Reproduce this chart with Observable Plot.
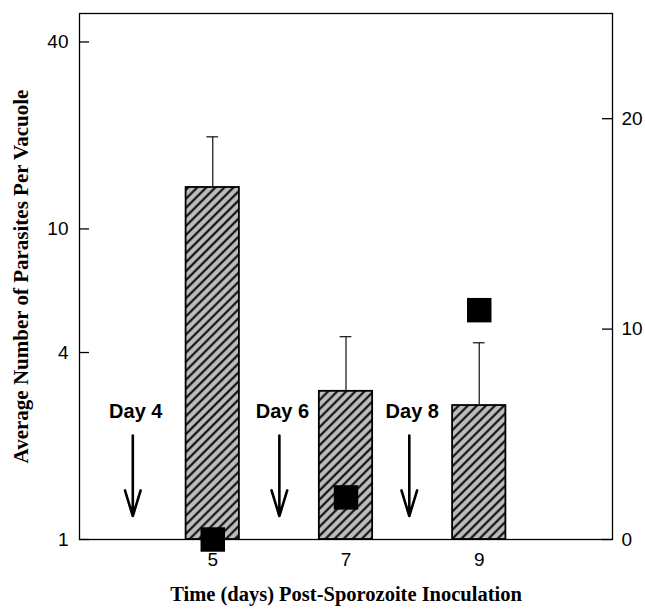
<!DOCTYPE html>
<html><head><meta charset="utf-8">
<script src="https://cdn.jsdelivr.net/npm/d3@7"></script>
<script src="https://cdn.jsdelivr.net/npm/@observablehq/plot@0.6"></script>
<style>
body{margin:0;background:#fff;}
</style>
</head><body><div id="chart"></div>
<script>
// ---- data ----
const days = [5, 7, 9];
const parasites = [13.6, 3.0, 2.7];          // left (log) axis, bar heights
const parasitesErr = [19.8, 4.5, 4.3];       // upper error bar ends
const rightSeries = [0, 2, 10.9];            // right axis, black squares
const arrowDays = [3.8, 6.0, 7.95];
const arrowLabels = ["Day 4", "Day 6", "Day 8"];
const leftTicks = [1, 4, 10, 40];
const rightTicks = [0, 10, 20];
const xTicks = [5, 7, 9];
const xTitle = "Time (days) Post-Sporozoite Inoculation";
const yTitle = "Average Number of Parasites Per Vacuole";

// ---- layout ----
const W = 645, H = 609, mL = 79, mR = 33, mT = 13, mB = 70;
const plotW = W - mL - mR;
const yMax = 49.4, rightMax = 25;
const toLeft = v => Math.pow(yMax, v / rightMax);   // right linear axis -> left log scale
const idx = days.map((_, i) => i);
const sans = "'Liberation Sans', Arial, sans-serif";
const serif = "'Liberation Serif', 'Times New Roman', serif";

const svg = Plot.plot({
  width: W, height: H,
  marginLeft: mL, marginRight: mR, marginTop: mT, marginBottom: mB,
  style: {fontFamily: sans, fontSize: "19px", background: "white", overflow: "visible", color: "black"},
  x: {domain: [3, 11]},
  y: {type: "log", domain: [1, yMax]},
  marks: [
    Plot.rect(idx, {
      x1: i => days[i] - 0.4, x2: i => days[i] + 0.4,
      y1: 1, y2: i => parasites[i],
      fill: "url(#hatch)", stroke: "black", strokeWidth: 1.8
    }),
    Plot.ruleX(idx, {x: i => days[i], y1: i => parasites[i], y2: i => parasitesErr[i], stroke: "#222", strokeWidth: 1.3}),
    Plot.ruleY(idx, {y: i => parasitesErr[i], x1: i => days[i] - 0.088, x2: i => days[i] + 0.088, stroke: "#222", strokeWidth: 1.3}),
    Plot.frame({stroke: "black", strokeWidth: 1.3}),
    Plot.tickY(leftTicks, {y: d => d, insetRight: plotW - 10, stroke: "black", strokeWidth: 1.3}),
    Plot.tickY(rightTicks.map(toLeft), {y: d => d, insetLeft: plotW - 10, stroke: "black", strokeWidth: 1.3}),
    Plot.axisY(leftTicks, {anchor: "left", tickSize: 0, tickPadding: 11, tickFormat: d => String(d), label: null, fontSize: 19}),
    Plot.axisY(rightTicks.map(toLeft), {anchor: "right", tickSize: 0, tickPadding: 9,
      tickFormat: d => String(Math.round(Math.log(d) / Math.log(yMax) * rightMax)), label: null, fontSize: 19}),
    Plot.axisX(xTicks, {anchor: "bottom", tickSize: 0, tickPadding: 13, tickFormat: d => String(d), label: null, fontSize: 19}),
    Plot.dot(idx, {x: i => days[i], y: i => toLeft(rightSeries[i]), symbol: "square", r: 13.8, fill: "black", stroke: null}),
    Plot.arrow(arrowDays, {x1: d => d, x2: d => d, y1: 2.16, y2: 1.19, stroke: "black", strokeWidth: 2.6, headAngle: 34, headLength: 17}),
    Plot.text(arrowDays, {x: d => d, y: 2.58, text: (d, i) => arrowLabels[i], fontWeight: "bold", fontSize: 20, fontFamily: sans, dx: 3}),
    Plot.text([yTitle], {frameAnchor: "left", dx: -58, rotate: -90, textAnchor: "middle", lineAnchor: "middle", text: d => d,
      fontFamily: serif, fontWeight: "bold", fontSize: 21}),
    Plot.text([xTitle], {frameAnchor: "bottom", dy: 55, textAnchor: "middle", lineAnchor: "middle", text: d => d,
      fontFamily: serif, fontWeight: "bold", fontSize: 20.5})
  ]
});

const ns = "http://www.w3.org/2000/svg";
const defs = document.createElementNS(ns, "defs");
defs.innerHTML = `<pattern id="hatch" patternUnits="userSpaceOnUse" width="6.4" height="6.4" patternTransform="rotate(45)">
  <rect width="6.4" height="6.4" fill="#bcbcbc"/>
  <line x1="3.2" y1="0" x2="3.2" y2="6.4" stroke="black" stroke-width="2"/>
</pattern>`;
svg.insertBefore(defs, svg.firstChild);
document.getElementById("chart").appendChild(svg);
</script>
</body></html>
